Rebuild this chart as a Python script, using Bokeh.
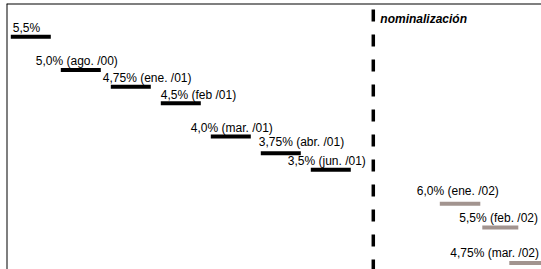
from bokeh.plotting import figure
from bokeh.models import Range1d, Span, ColumnDataSource
from bokeh.core.properties import value
from bokeh.embed import file_html
from bokeh.resources import INLINE

# --- data: policy rate steps before "nominalización" (2000-2001)
rates_1 = [5.5, 5.0, 4.75, 4.5, 4.0, 3.75, 3.5]
labels_1 = ["5,5%", "5,0% (ago. /00)", "4,75% (ene. /01)", "4,5% (feb /01)",
            "4,0% (mar. /01)", "3,75% (abr. /01)", "3,5% (jun. /01)"]
start_1 = [0, 1, 2, 3, 4, 5, 6]
end_1 = [0.8, 1.8, 2.8, 3.8, 4.8, 5.8, 6.8]

# --- data: steps after "nominalización" (2002)
rates_2 = [6.0, 5.5, 4.75]
labels_2 = ["6,0% (ene. /02)", "5,5% (feb. /02)", "4,75% (mar. /02)"]
start_2 = [8.58, 9.43, 9.97]
end_2 = [9.39, 10.15, 10.8]

nominal_x = 7.25
nominal_label = "nominalización"

# --- styling (label offsets in screen pixels)
dx_1 = [2, -25, -8, 0, -20, -2, -23]
dy_1 = [-8.5, -9, -8.5, -8.7, -9, -11, -9]
dx_2 = [-23, -23, -59]
dy_2 = [-13, -9.5, -9.5]

BLACK = "#000000"
GREY = "#a2948f"
FONT = "Liberation Sans"

W, H = 535, 266
x0 = -0.086
p = figure(width=W, height=H, output_backend="svg", toolbar_location=None,
           x_range=Range1d(x0, x0 + W / 50.0), y_range=Range1d(2.0, 6.0),
           min_border=0, outline_line_color=None)
p.extra_y_ranges = {"y2": Range1d(4.61, 10.235)}
p.margin = (3, 0, 0, 6)
p.xaxis.visible = False
p.yaxis.visible = False
p.grid.visible = False
p.background_fill_color = "white"
p.border_fill_color = "white"

# frame lines (top and left)
p.add_layout(Span(location=x0, dimension="height", line_color=BLACK, line_width=2))
p.add_layout(Span(location=6.0, dimension="width", line_color=BLACK, line_width=2))

src1 = ColumnDataSource(dict(x0=start_1, x1=end_1, y=rates_1, t=labels_1, dx=dx_1, dy=dy_1))
src2 = ColumnDataSource(dict(x0=start_2, x1=end_2, y=rates_2, t=labels_2, dx=dx_2, dy=dy_2))

p.segment(x0="x0", y0="y", x1="x1", y1="y", source=src1, line_color=BLACK,
          line_width=4, line_cap="butt")
p.segment(x0="x0", y0="y", x1="x1", y1="y", source=src2, line_color=GREY,
          line_width=4, line_cap="butt", y_range_name="y2")

p.text(x="x0", y="y", text="t", source=src1, x_offset="dx", y_offset="dy",
       text_font=value(FONT), text_font_size="12px", text_color=BLACK,
       text_baseline="alphabetic", text_align="left")
p.text(x="x0", y="y", text="t", source=src2, x_offset="dx", y_offset="dy",
       text_font=value(FONT), text_font_size="12px", text_color=BLACK,
       text_baseline="alphabetic", text_align="left", y_range_name="y2")

# nominalization divider
p.add_layout(Span(location=nominal_x, dimension="height", line_color=BLACK,
                  line_width=3.5, line_dash="12 13", line_dash_offset=19))
p.text(x=[nominal_x], y=[6.0], text=[nominal_label], x_offset=7, y_offset=15,
       text_font=value(FONT), text_font_size="12px", text_font_style="bold italic",
       text_color=BLACK, text_baseline="alphabetic", text_align="left")

open("out.html", "w").write(file_html(p, INLINE))
